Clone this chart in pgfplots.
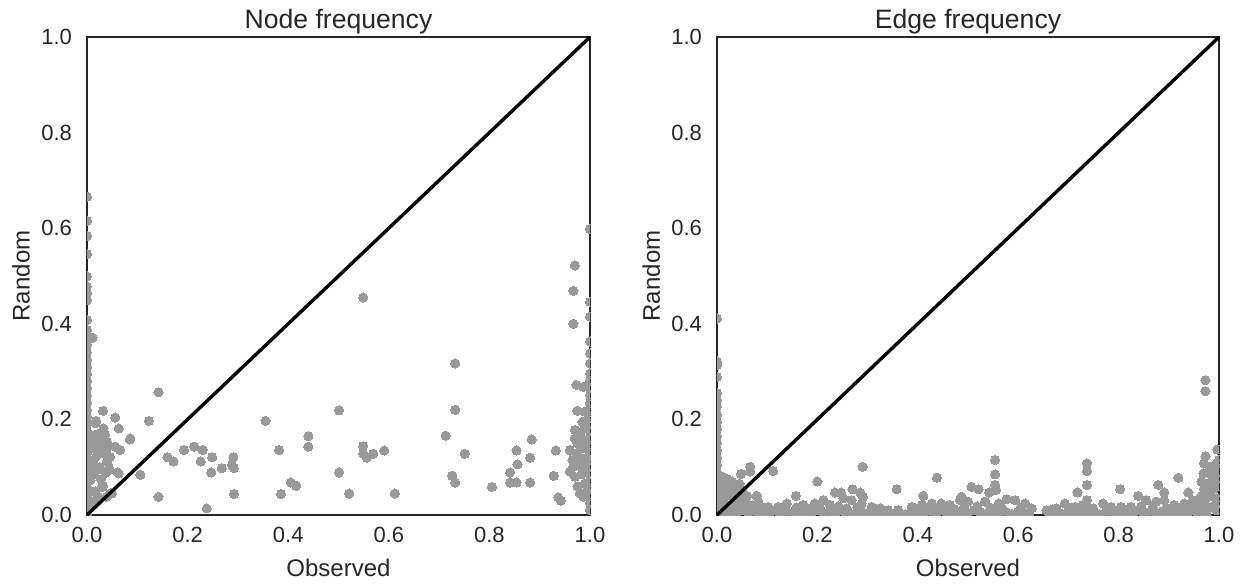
\documentclass[border=0pt]{standalone}
\usepackage{pgfplots}
\pgfplotsset{compat=1.18}
\usepackage{fontspec}
\setmainfont{Liberation Sans}
\definecolor{pgray}{RGB}{153,153,153}
\definecolor{dtext}{RGB}{38,38,38}
\pgfplotsset{
  myaxis/.style={
    scale only axis, width=251.5pt, height=239pt,
    xmin=0, xmax=1, ymin=0, ymax=1,
    xtick={0,0.2,0.4,0.6,0.8,1}, ytick={0,0.2,0.4,0.6,0.8,1},
    xticklabels={0.0,0.2,0.4,0.6,0.8,1.0}, yticklabels={0.0,0.2,0.4,0.6,0.8,1.0},
    major tick length=0pt,
    axis line style={draw=dtext, line width=0.7pt},
    tick label style={font=\fontsize{11}{13}\selectfont, text=dtext},
    xticklabel style={yshift=-2.5pt},
    yticklabel style={xshift=-4pt},
    label style={font=\fontsize{12}{14}\selectfont, text=dtext},
    xlabel style={at={(axis description cs:0.5,-0.111)}, anchor=center},
    ylabel style={at={(axis description cs:-0.131,0.5)}, anchor=center},
    title style={at={(axis description cs:0.5,1.008)}, anchor=center, font=\fontsize{13.3}{15}\selectfont, text=dtext},
    clip marker paths=true,
    xlabel={Observed}, ylabel={Random},
  },
  pts/.style={color=pgray, only marks, mark=*, mark size=2.3pt, mark options={solid, draw=pgray, fill=pgray, line width=0pt}},
}
\begin{document}
\begin{tikzpicture}
\useasboundingbox (0,0) rectangle (622.5pt,292pt);
\begin{axis}[myaxis, at={(43.5pt,34.5pt)}, anchor=south west, title={Node frequency}]
\addplot[pts] table {
x y
0 0.666
0 0.615
0 0.584
0 0.546
0 0.499
0 0.478
0 0.464
0 0.449
0 0.408
0 0.387
0 0.370
0 0.355
0 0.340
0 0.325
0 0.310
0 0.295
0 0.280
0 0.265
0 0.250
0 0.235
0 0.220
0 0.205
0 0.190
0 0.175
0 0.160
0 0.145
0 0.130
0 0.115
0 0.100
0 0.085
0 0.070
0 0.055
0 0.040
0 0.025
0 0.010
0 0.000
0.011 0.371
0.017 0.192
0.033 0.181
0.063 0.181
0.086 0.160
0.036 0.167
0.017 0.164
0.040 0.153
0.056 0.143
0.020 0.136
0.036 0.129
0.013 0.115
0.040 0.112
0.020 0.094
0.043 0.094
0.063 0.087
0.106 0.084
0.030 0.059
0.046 0.045
0.017 0.049
0.007 0.073
0.032 0.218
0.056 0.204
0.018 0.197
0.123 0.197
0.085 0.158
0.032 0.164
0.066 0.136
0.046 0.121
0.061 0.089
0.038 0.089
0.044 0.098
0.032 0.061
0.049 0.045
0.039 0.038
0.023 0.038
0.142 0.257
0.010 0.150
0.015 0.140
0.025 0.155
0.020 0.125
0.010 0.105
0.025 0.100
0.012 0.085
0.028 0.075
0.008 0.050
0.015 0.030
0.005 0.020
0.025 0.145
0.030 0.130
0.040 0.140
0.012 0.165
0.022 0.170
0.160 0.121
0.172 0.112
0.193 0.136
0.213 0.143
0.230 0.136
0.226 0.112
0.249 0.121
0.291 0.121
0.288 0.105
0.292 0.098
0.247 0.089
0.268 0.098
0.142 0.038
0.292 0.044
0.238 0.014
0.382 0.136
0.355 0.197
0.440 0.165
0.440 0.143
0.405 0.068
0.416 0.061
0.386 0.044
0.501 0.219
0.501 0.089
0.549 0.455
0.732 0.317
0.732 0.220
0.713 0.166
0.549 0.144
0.549 0.129
0.556 0.120
0.569 0.128
0.591 0.135
0.751 0.128
0.884 0.158
0.854 0.135
0.881 0.120
0.856 0.106
0.841 0.089
0.841 0.068
0.854 0.068
0.881 0.068
0.932 0.135
0.960 0.135
0.928 0.082
0.937 0.037
0.942 0.030
0.805 0.059
0.726 0.082
0.732 0.068
0.521 0.045
0.612 0.045
0.970 0.522
0.967 0.469
0.967 0.400
0.973 0.272
0.987 0.268
0.975 0.218
0.990 0.216
0.970 0.178
0.980 0.171
0.990 0.185
0.987 0.157
0.960 0.136
0.974 0.129
0.980 0.119
0.967 0.101
0.960 0.091
0.970 0.080
0.987 0.094
0.990 0.066
0.987 0.038
0.975 0.150
0.985 0.140
0.993 0.120
0.978 0.105
0.965 0.115
0.983 0.085
0.975 0.060
0.993 0.050
0.980 0.045
0.990 0.110
0.995 0.200
0.985 0.195
0.970 0.160
1 0.598
1 0.446
1 0.415
1 0.363
1 0.338
1 0.317
1 0.296
1 0.280
1 0.265
1 0.250
1 0.235
1 0.220
1 0.205
1 0.190
1 0.175
1 0.160
1 0.145
1 0.130
1 0.115
1 0.100
1 0.085
1 0.070
1 0.055
1 0.040
1 0.025
1 0.010
};
\addplot[black, line width=1.7pt] coordinates {(0,0) (1,1)};
\end{axis}
\begin{axis}[myaxis, width=251pt, at={(358.5pt,34.5pt)}, anchor=south west, title={Edge frequency}]
\addplot[pts] table {
x y
0 0.411
0 0.321
0 0.314
0 0.289
0 0.255
0 0.241
0 0.227
0 0.210
0 0.195
0 0.180
0 0.165
0 0.150
0 0.135
0 0.120
0 0.105
0 0.090
0 0.075
0 0.060
0 0.045
0 0.030
0 0.015
0 0.000
0.066 0.101
0.066 0.091
0.048 0.086
0.112 0.092
0.079 0.040
0.010 0.080
0.020 0.075
0.030 0.070
0.015 0.060
0.035 0.055
0.045 0.065
0.025 0.045
0.050 0.050
0.060 0.040
0.040 0.035
0.010 0.030
0.020 0.020
0.055 0.025
0.070 0.020
0.030 0.010
0.090 0.015
0.010 0.045
0.005 0.065
0.015 0.040
0.025 0.060
0.035 0.030
0.045 0.020
0.005 0.010
0.020 0.050
0.030 0.040
0.040 0.050
0.010 0.070
0.060 0.015
0.200 0.070
0.290 0.101
0.438 0.078
0.358 0.054
0.235 0.047
0.247 0.047
0.252 0.035
0.270 0.054
0.285 0.047
0.291 0.038
0.157 0.040
0.411 0.040
0.487 0.038
0.507 0.059
0.554 0.115
0.554 0.085
0.554 0.063
0.556 0.052
0.542 0.047
0.521 0.054
0.737 0.108
0.737 0.092
0.737 0.063
0.718 0.047
0.737 0.031
0.803 0.054
0.879 0.063
0.919 0.078
0.939 0.047
0.891 0.047
0.891 0.031
0.839 0.040
0.973 0.282
0.973 0.259
0.973 0.123
0.997 0.137
0.970 0.108
0.982 0.101
0.990 0.094
0.995 0.108
0.969 0.087
0.985 0.084
0.965 0.070
0.975 0.065
0.985 0.070
0.995 0.075
0.970 0.055
0.980 0.050
0.990 0.055
0.965 0.040
0.975 0.035
0.985 0.040
0.995 0.035
0.970 0.020
0.980 0.015
0.990 0.020
0.965 0.005
0.975 0.000
0.995 0.010
1 0.060
1 0.090
1 0.030
1 0.115
0.955 0.030
0.950 0.015
0.056 0.031
0.082 0.028
0.102 0.017
0.122 0.017
0.139 0.024
0.172 0.021
0.195 0.024
0.212 0.031
0.225 0.021
0.268 0.031
0.288 0.024
0.308 0.017
0.325 0.014
0.341 0.010
0.361 0.010
0.388 0.017
0.408 0.021
0.428 0.024
0.447 0.024
0.464 0.021
0.484 0.031
0.500 0.028
0.534 0.028
0.561 0.024
0.577 0.033
0.594 0.031
0.614 0.024
0.627 0.014
0.656 0.010
0.676 0.014
0.693 0.024
0.713 0.017
0.729 0.021
0.749 0.014
0.769 0.024
0.785 0.017
0.805 0.017
0.825 0.017
0.855 0.031
0.875 0.028
0.911 0.021
0.931 0.024
0.948 0.031
0.068 0.016
0.092 0.012
0.132 0.014
0.158 0.016
0.182 0.013
0.205 0.015
0.242 0.018
0.258 0.014
0.280 0.016
0.318 0.012
0.398 0.012
0.418 0.014
0.440 0.015
0.472 0.013
0.492 0.016
0.518 0.018
0.545 0.015
0.568 0.014
0.605 0.015
0.668 0.012
0.705 0.014
0.740 0.013
0.778 0.012
0.815 0.011
0.845 0.018
0.868 0.016
0.895 0.014
0.920 0.013
0.942 0.017
0.958 0.022
0.012 0.005
0.025 0.008
0.038 0.003
0.050 0.010
0.062 0.004
0.075 0.007
0.088 0.002
0.100 0.006
0.112 0.009
0.125 0.003
0.137 0.007
0.150 0.004
0.162 0.008
0.175 0.002
0.187 0.006
0.200 0.010
0.212 0.004
0.225 0.007
0.237 0.003
0.250 0.009
0.262 0.005
0.275 0.002
0.287 0.008
0.300 0.004
0.312 0.006
0.325 0.003
0.337 0.005
0.350 0.002
0.362 0.004
0.375 0.001
0.387 0.006
0.400 0.008
0.412 0.003
0.425 0.007
0.437 0.004
0.450 0.009
0.462 0.005
0.475 0.002
0.487 0.008
0.500 0.004
0.512 0.010
0.525 0.006
0.537 0.003
0.550 0.008
0.562 0.004
0.575 0.007
0.587 0.002
0.600 0.006
0.612 0.004
0.622 0.002
0.662 0.003
0.675 0.006
0.687 0.002
0.700 0.007
0.712 0.004
0.725 0.008
0.737 0.003
0.750 0.006
0.762 0.002
0.775 0.007
0.787 0.004
0.800 0.008
0.812 0.003
0.825 0.006
0.837 0.009
0.850 0.004
0.862 0.007
0.875 0.003
0.887 0.008
0.900 0.005
0.912 0.002
0.925 0.007
0.937 0.004
0.950 0.009
0.962 0.006
};
\addplot[black, line width=1.7pt] coordinates {(0,0) (1,1)};
\end{axis}
\end{tikzpicture}
\end{document}
